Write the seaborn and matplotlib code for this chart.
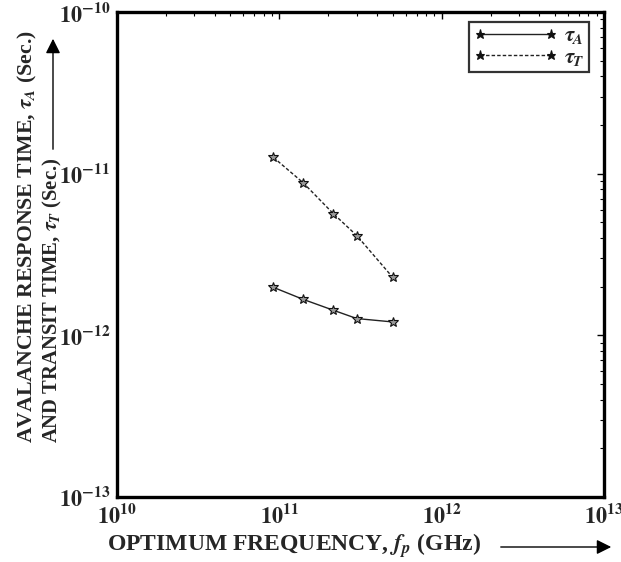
import matplotlib
matplotlib.use("Agg")
import matplotlib.pyplot as plt
import matplotlib.ticker as mticker
import numpy as np
import pandas as pd
import seaborn as sns

# data (log-log)
freq_hz = [9.2e10, 1.4e11, 2.15e11, 3.0e11, 5.0e11]
tau_a = [1.98e-12, 1.67e-12, 1.43e-12, 1.27e-12, 1.21e-12]
tau_t = [1.26e-11, 8.8e-12, 5.66e-12, 4.14e-12, 2.28e-12]
series_labels = [r"$\tau_A$", r"$\tau_T$"]

sns.set_theme(style="white")
plt.rcParams["font.family"] = ["Liberation Serif", "DejaVu Serif"]
plt.rcParams["font.weight"] = "bold"
plt.rcParams["mathtext.fontset"] = "stix"

df = pd.DataFrame({
    "freq": freq_hz * 2,
    "tau": tau_a + tau_t,
    "series": [series_labels[0]] * 5 + [series_labels[1]] * 5,
})

fig = plt.figure(figsize=(6.21, 5.62), dpi=100)
ax = fig.add_axes([117 / 621, 1 - 497 / 562, 487 / 621, 485 / 562])

styles = {series_labels[0]: "-", series_labels[1]: (0, (2.5, 1.5))}
for name, sub in df.groupby("series", sort=False):
    sns.lineplot(data=sub, x="freq", y="tau", ax=ax, color="#222222", lw=1.0,
                 linestyle=styles[name], marker="*", markersize=7.5,
                 markerfacecolor="#999999", markeredgecolor="#111111",
                 markeredgewidth=0.8, label=name)

ax.set_xscale("log")
ax.set_yscale("log")
ax.set_xlim(1e10, 1e13)
ax.set_ylim(1e-13, 1e-10)
ax.set_xlabel("")
ax.set_ylabel("")


def pow_fmt(v, pos):
    return r"$\mathbf{10^{%d}}$" % int(round(np.log10(v)))


ax.xaxis.set_major_locator(mticker.LogLocator(base=10, numticks=10))
ax.yaxis.set_major_locator(mticker.LogLocator(base=10, numticks=10))
ax.xaxis.set_minor_locator(mticker.LogLocator(base=10, subs=np.arange(2, 10), numticks=10))
ax.yaxis.set_minor_locator(mticker.LogLocator(base=10, subs=np.arange(2, 10), numticks=10))
ax.xaxis.set_major_formatter(mticker.FuncFormatter(pow_fmt))
ax.yaxis.set_major_formatter(mticker.FuncFormatter(pow_fmt))
ax.xaxis.set_minor_formatter(mticker.NullFormatter())
ax.yaxis.set_minor_formatter(mticker.NullFormatter())
ax.tick_params(which="both", direction="in", top=True, right=True, color="black")
ax.tick_params(which="major", length=5, width=1.0, labelsize=16, pad=5)
ax.tick_params(which="minor", length=3, width=0.8)
for s in ax.spines.values():
    s.set_linewidth(2.4)
    s.set_color("black")

leg = ax.legend(loc="upper right", numpoints=2, fontsize=15.5, frameon=True,
                fancybox=False, edgecolor="black", handlelength=3.9,
                bbox_to_anchor=(589 / 621, 1 - 22 / 562),
                bbox_transform=fig.transFigure, borderaxespad=0,
                handletextpad=0.3, labelspacing=0.05, borderpad=0.2)
leg.get_frame().set_linewidth(1.6)
for h in leg.legend_handles:
    h.set_markerfacecolor("#111111")
    h.set_markersize(6.5)

# axis titles with arrows
fig.text(107 / 621, 1 - 546 / 562, r"OPTIMUM FREQUENCY, $f_p$ (GHz)",
         ha="left", va="center", fontsize=17, fontweight="bold")
fig.text(27 / 621, 1 - 443 / 562, r"AVALANCHE RESPONSE TIME, $\tau_A$ (Sec.)",
         rotation=90, ha="center", va="bottom", fontsize=15.7, fontweight="bold")
fig.text(52 / 621, 1 - 443 / 562, r"AND TRANSIT TIME, $\tau_T$ (Sec.)",
         rotation=90, ha="center", va="bottom", fontsize=14.9, fontweight="bold")
fig.add_artist(matplotlib.patches.FancyArrowPatch(
    (498 / 621, 1 - 547 / 562), (614 / 621, 1 - 547 / 562),
    transform=fig.transFigure, arrowstyle="-|>", mutation_scale=22,
    color="black", lw=1.0))
fig.add_artist(matplotlib.patches.FancyArrowPatch(
    (53 / 621, 1 - 152 / 562), (53 / 621, 1 - 36 / 562),
    transform=fig.transFigure, arrowstyle="-|>", mutation_scale=22,
    color="black", lw=1.0))

fig.savefig("out.png", dpi=100)
